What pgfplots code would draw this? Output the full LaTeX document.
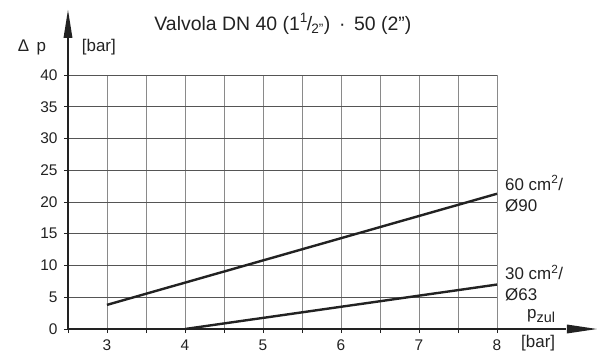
\documentclass[border=0pt]{standalone}
\usepackage{pgfplots}
\pgfplotsset{compat=1.18}
\usepackage{fontspec}
\setmainfont{Liberation Sans}
\definecolor{gridv}{HTML}{8A8A8A}
\definecolor{gridh}{HTML}{555555}
\definecolor{ink}{HTML}{222222}
\begin{document}
\begin{tikzpicture}[x=1bp,y=1bp]
\begin{axis}[
    scale only axis,
    width=429bp,
    height=254bp,
    xmin=2.5, xmax=8,
    ymin=0, ymax=40,
    xtick={3,...,8},
    minor xtick={2.5,3.5,...,7.5},
    ytick={0,5,...,40},
    tick pos=left,
    tick align=outside,
    major tick length=4bp,
    minor tick length=4bp,
    every tick/.style={ink, line width=0.8bp},
    grid=both,
    major grid style={gridv, line width=0.9bp},
    minor grid style={gridv, line width=0.9bp},
    axis line style={draw=none},
    clip=false,
    tick label style={font=\fontsize{15.5}{18}\selectfont, text=ink},
    /pgf/number format/assume math mode=true,
    xticklabel style={yshift=-3bp},
    yticklabel style={xshift=-3bp},
]
% horizontal grid darker
\pgfplotsinvokeforeach{5,10,...,40}{
  \draw[gridh, line width=1bp] (rel axis cs:0,#1/40) -- (rel axis cs:1,#1/40);
}
\addplot[ink, line width=2.4bp] coordinates {(3,3.8) (8,21.3)};
\addplot[ink, line width=2.4bp] coordinates {(4,0) (8,7)};
% axes with long arrowheads
\draw[ink, line width=1.3bp] (rel axis cs:0,0) -- (rel axis cs:0,1.15);
\draw[ink, line width=1.3bp] (rel axis cs:0,0) -- (rel axis cs:1.16,0);
\fill[ink] (rel axis cs:0,1.256) -- ([xshift=-4.5bp]rel axis cs:0,1.146) -- ([xshift=4.5bp]rel axis cs:0,1.146) -- cycle;
\fill[ink] (rel axis cs:1.233,0) -- ([yshift=4.5bp]rel axis cs:1.163,0) -- ([yshift=-4.5bp]rel axis cs:1.163,0) -- cycle;
% labels
\begin{scope}[every node/.style={text=ink, font=\fontsize{17}{20}\selectfont, inner sep=0pt}]
\node at (rel axis cs:-0.084,1.110) {Δ\, p};
\node at (rel axis cs:0.072,1.110) {[bar]};
\node[font=\fontsize{19.5}{22}\selectfont] at (rel axis cs:0.501,1.201) {Valvola DN 40 (1\textsuperscript{1}\kern-0.05em/\kern-0.05em\textsubscript{2”}) \,·\, 50 (2”)};
\node[anchor=west] at (rel axis cs:1.0186,0.575) {60 cm\textsuperscript{2}/};
\node[anchor=west] at (rel axis cs:1.0186,0.484) {Ø90};
\node[anchor=west] at (rel axis cs:1.0186,0.224) {30 cm\textsuperscript{2}/};
\node[anchor=west] at (rel axis cs:1.0186,0.134) {Ø63};
\node[anchor=west] at (rel axis cs:1.070,0.050) {p\raisebox{-0.45ex}{\fontsize{14.5}{16}\selectfont zul}};
\node[anchor=west] at (rel axis cs:1.056,-0.055) {[bar]};
\end{scope}
% picture bounds
\path (rel axis cs:-0.1585,-0.1063) rectangle (rel axis cs:1.2401,1.2953);
\end{axis}
\end{tikzpicture}
\end{document}
